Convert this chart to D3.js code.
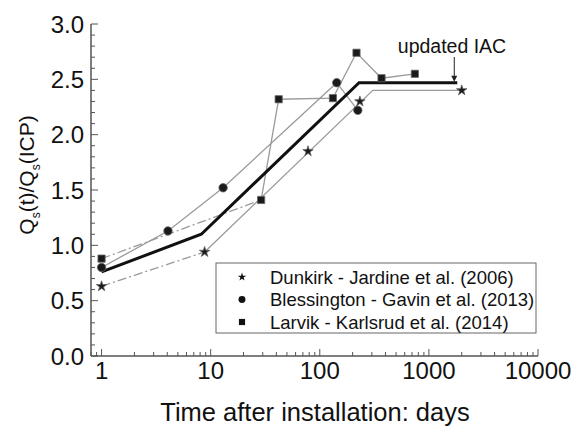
<!DOCTYPE html>
<html>
<head>
<meta charset="utf-8">
<script src="https://cdn.jsdelivr.net/npm/d3@7"></script>
<style>
  body { margin: 0; background: #fff; }
  text { font-family: "Liberation Sans", Arial, sans-serif; fill: #111; }
</style>
</head>
<body>
<div id="chart"></div>
<script>
// Dunkirk - Jardine et al. (2006)
var dunkirkDays = [1, 8.8, 78, 233, 2000];
var dunkirkRatio = [0.63, 0.94, 1.85, 2.30, 2.40];
// Blessington - Gavin et al. (2013)
var blessDays = [1, 4.06, 13, 143, 223];
var blessRatio = [0.80, 1.13, 1.52, 2.47, 2.22];
// Larvik - Karlsrud et al. (2014)
var larvikDays = [1, 29, 42, 132, 217, 368, 744];
var larvikRatio = [0.88, 1.41, 2.32, 2.33, 2.74, 2.51, 2.55];
// updated IAC (thick line)
var iacDays = [1, 8.2, 229, 1820];
var iacRatio = [0.76, 1.10, 2.47, 2.47];
// lower gray line through the Dunkirk points
var lowerDays = [8.8, 306, 2000];
var lowerRatio = [0.94, 2.40, 2.40];

var xTicks = [1, 10, 100, 1000, 10000];
var yTicks = [0, 0.5, 1.0, 1.5, 2.0, 2.5, 3.0];
var legendNames = ["Dunkirk - Jardine et al. (2006)", "Blessington - Gavin et al. (2013)", "Larvik - Karlsrud et al. (2014)"];

var width = 578, height = 435;

var svg = d3.select("#chart").append("svg")
    .attr("width", width)
    .attr("height", height);

var x = d3.scaleLog().domain([0.8, 10000]).range([91, 538]);
var y = d3.scaleLinear().domain([0, 3]).range([356, 24]);

function pts(ts, vs) {
    return ts.map(function (t, i) { return [t, vs[i]]; });
}

var line = d3.line()
    .x(function (d) { return x(d[0]); })
    .y(function (d) { return y(d[1]); });

var axisColor = "#555";

// axes: minor ticks
var minorX = [];
[0.1, 1, 10, 100, 1000].forEach(function (dec) {
    for (var k = 2; k <= 9; k++) {
        if (dec * k >= 0.8 && dec * k < 10000) minorX.push(dec * k);
    }
});
svg.append("g").selectAll("line")
    .data(minorX)
    .enter().append("line")
    .attr("x1", function (d) { return x(d); })
    .attr("x2", function (d) { return x(d); })
    .attr("y1", y(0))
    .attr("y2", y(0) - 4)
    .attr("stroke", axisColor);

svg.append("g").selectAll("line")
    .data(xTicks)
    .enter().append("line")
    .attr("x1", function (d) { return x(d); })
    .attr("x2", function (d) { return x(d); })
    .attr("y1", y(0))
    .attr("y2", y(0) - 7)
    .attr("stroke", axisColor);

var minorY = d3.range(0, 31).map(function (i) { return i / 10; });
svg.append("g").selectAll("line")
    .data(minorY)
    .enter().append("line")
    .attr("x1", x(0.8))
    .attr("x2", function (d, i) { return x(0.8) + (i % 5 === 0 ? 7 : 4); })
    .attr("y1", function (d) { return y(d); })
    .attr("y2", function (d) { return y(d); })
    .attr("stroke", axisColor);

svg.append("line")
    .attr("x1", x(0.8)).attr("x2", x(10000))
    .attr("y1", y(0)).attr("y2", y(0))
    .attr("stroke", axisColor).attr("stroke-width", 1.5);
svg.append("line")
    .attr("x1", x(0.8)).attr("x2", x(0.8))
    .attr("y1", y(0)).attr("y2", y(3))
    .attr("stroke", axisColor).attr("stroke-width", 1.5);

svg.append("g").selectAll("text")
    .data(xTicks)
    .enter().append("text")
    .attr("x", function (d) { return x(d); })
    .attr("y", 379)
    .attr("text-anchor", "middle")
    .style("font-size", "24px")
    .text(function (d) { return d; });

svg.append("g").selectAll("text")
    .data(yTicks)
    .enter().append("text")
    .attr("x", 84)
    .attr("y", function (d) { return y(d) + 8.5; })
    .attr("text-anchor", "end")
    .style("font-size", "24px")
    .text(function (d) { return d.toFixed(1); });

svg.append("text")
    .attr("x", 315)
    .attr("y", 421)
    .attr("text-anchor", "middle")
    .style("font-size", "25.5px")
    .text("Time after installation: days");

var ylab = svg.append("text")
    .attr("transform", "translate(34,175) rotate(-90)")
    .attr("text-anchor", "middle")
    .style("font-size", "21px");
ylab.append("tspan").text("Q");
ylab.append("tspan").attr("dy", 6).style("font-size", "12px").text("s");
ylab.append("tspan").attr("dy", -6).text("(t)/Q");
ylab.append("tspan").attr("dy", 6).style("font-size", "12px").text("s");
ylab.append("tspan").attr("dy", -6).text("(ICP)");

// gray lines
var gray = "#9a9a9a";
var dashDot = "9,3,2,3";

svg.append("path")
    .attr("d", line(pts(dunkirkDays.slice(0, 2), dunkirkRatio.slice(0, 2))))
    .attr("fill", "none").attr("stroke", gray).attr("stroke-width", 1.3)
    .attr("stroke-dasharray", dashDot);
svg.append("path")
    .attr("d", line(pts(lowerDays, lowerRatio)))
    .attr("fill", "none").attr("stroke", gray).attr("stroke-width", 1.3);

svg.append("path")
    .attr("d", line(pts(blessDays, blessRatio)))
    .attr("fill", "none").attr("stroke", gray).attr("stroke-width", 1.3);

svg.append("path")
    .attr("d", line(pts(larvikDays.slice(0, 2), larvikRatio.slice(0, 2))))
    .attr("fill", "none").attr("stroke", gray).attr("stroke-width", 1.3)
    .attr("stroke-dasharray", dashDot);
svg.append("path")
    .attr("d", line(pts(larvikDays.slice(1), larvikRatio.slice(1))))
    .attr("fill", "none").attr("stroke", gray).attr("stroke-width", 1.3);

// updated IAC
svg.append("path")
    .attr("d", line(pts(iacDays, iacRatio)))
    .attr("fill", "none").attr("stroke", "#111").attr("stroke-width", 3);

// markers
var shapes = [
    { type: d3.symbolStar, size: 34, days: dunkirkDays, ratio: dunkirkRatio },
    { type: d3.symbolCircle, size: 56, days: blessDays, ratio: blessRatio },
    { type: d3.symbolSquare, size: 52, days: larvikDays, ratio: larvikRatio }
];
shapes.forEach(function (s) {
    svg.append("g").selectAll("path")
        .data(pts(s.days, s.ratio))
        .enter().append("path")
        .attr("transform", function (d) { return "translate(" + x(d[0]) + "," + y(d[1]) + ")"; })
        .attr("d", d3.symbol().type(s.type).size(s.size))
        .attr("fill", "#1a1a1a")
        .attr("stroke", "#666")
        .attr("stroke-width", 0.8);
});

// annotation
var lastT = iacDays[iacDays.length - 1];
var arrowX = x(lastT) - 3;
svg.append("line")
    .attr("x1", arrowX).attr("x2", arrowX)
    .attr("y1", 57).attr("y2", y(2.47) - 6)
    .attr("stroke", "#222").attr("stroke-width", 1);
svg.append("path")
    .attr("d", "M" + (arrowX - 3) + "," + (y(2.47) - 7) + "L" + (arrowX + 3) + "," + (y(2.47) - 7) + "L" + arrowX + "," + (y(2.47) - 1) + "Z")
    .attr("fill", "#222");
svg.append("text")
    .attr("x", 452)
    .attr("y", 53)
    .attr("text-anchor", "middle")
    .style("font-size", "19.5px")
    .text("updated IAC");

// legend
var legend = svg.append("g");
legend.append("rect")
    .attr("x", 216).attr("y", 263)
    .attr("width", 320).attr("height", 70)
    .attr("fill", "#fff").attr("stroke", "#666").attr("stroke-width", 1);
legendNames.forEach(function (name, i) {
    var cy = 277 + i * 22.5;
    legend.append("path")
        .attr("transform", "translate(242," + cy + ")")
        .attr("d", d3.symbol().type(shapes[i].type).size(i === 0 ? 22 : 38))
        .attr("fill", "#111");
    legend.append("text")
        .attr("x", 270)
        .attr("y", cy + 6.5)
        .style("font-size", "18.5px")
        .text(name);
});
</script>
</body>
</html>
